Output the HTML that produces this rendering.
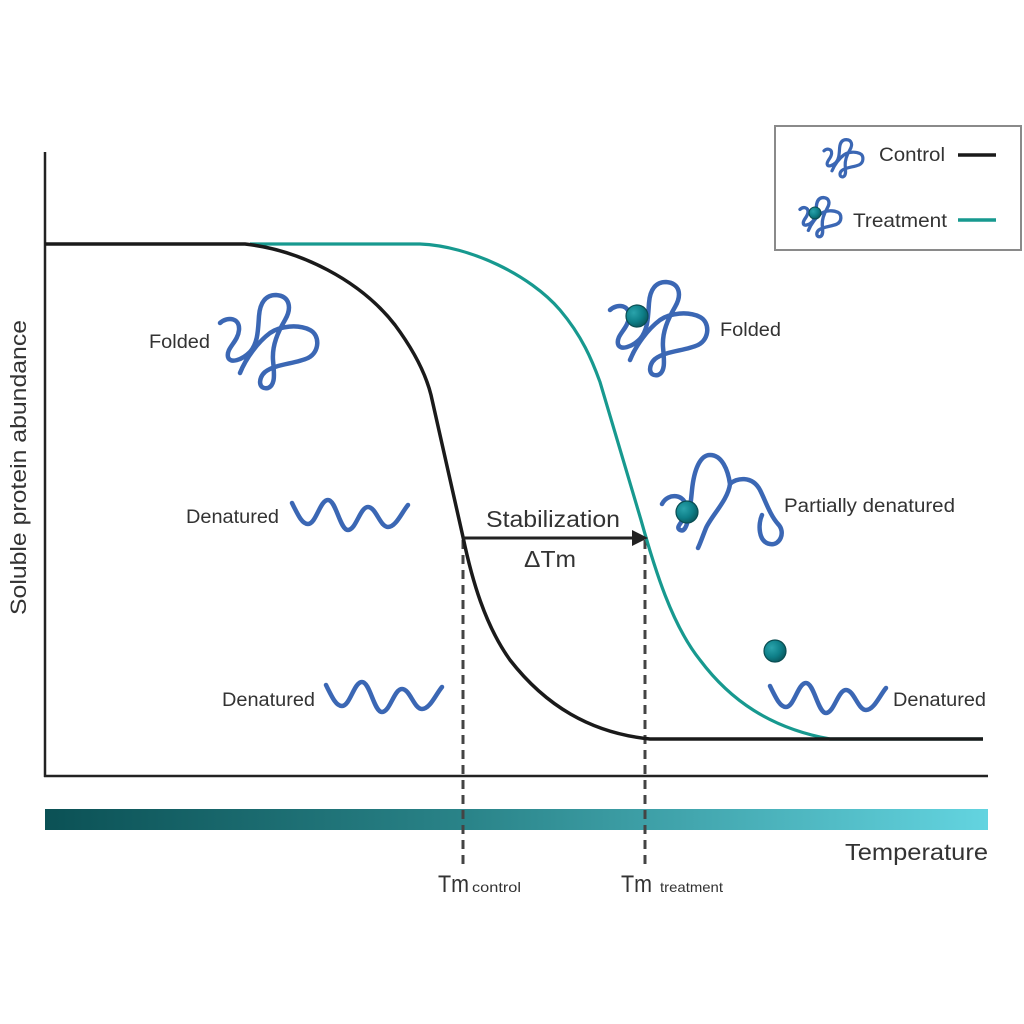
<!DOCTYPE html>
<html><head><meta charset="utf-8"><style>
html,body{margin:0;padding:0;background:#fff;}
svg{display:block;}
text{font-family:"Liberation Sans",Arial,sans-serif;fill:#333;}
</style></head><body>
<svg width="1024" height="1024" viewBox="0 0 1024 1024" xmlns="http://www.w3.org/2000/svg">
<defs>
<linearGradient id="tg" x1="0" x2="1" y1="0" y2="0">
<stop offset="0" stop-color="#0b5155"/>
<stop offset="0.45" stop-color="#2a8489"/>
<stop offset="1" stop-color="#63d4e0"/>
</linearGradient>
<radialGradient id="ball" cx="0.35" cy="0.35" r="0.7">
<stop offset="0" stop-color="#2aa3ab"/>
<stop offset="0.6" stop-color="#0e7f88"/>
<stop offset="1" stop-color="#0a5a60"/>
</radialGradient>
<path id="foldp" d="M0,27 C8,20 20,22 19,34 C18,46 6,52 8,61 C10,68 22,64 30,56 C38,47 38,34 39,20 C40,6 46,-1 56,-1 C70,0 72,12 65,24 C58,36 52,49 53,64 C54,76 56,89 48,92 C38,94 38,82 45,76 C55,68 75,68 88,62 C100,56 100,39 90,34 C78,28 60,30 50,37 C38,46 26,62 20,77"/>
<path id="wave" d="M292,503 C298,515 302,524 308,524 C316,524 320,500 328,500 C336,500 340,530 348,530 C356,530 360,507 368,507 C376,507 380,527 388,527 C396,527 402,512 408,505" fill="none" stroke="#3b67b4" stroke-width="4.5" stroke-linecap="round"/>
</defs>

<!-- axes -->
<line x1="45" y1="152" x2="45" y2="777" stroke="#222" stroke-width="2.5"/>
<line x1="44" y1="776" x2="988" y2="776" stroke="#222" stroke-width="2.5"/>

<!-- gradient bar -->
<rect x="45" y="809" width="943" height="21" fill="url(#tg)"/>

<!-- dashed lines -->
<line x1="463" y1="540" x2="463" y2="868" stroke="#444" stroke-width="3" stroke-dasharray="9,6"/>
<line x1="645" y1="540" x2="645" y2="868" stroke="#444" stroke-width="3" stroke-dasharray="9,6"/>

<!-- teal curve -->
<path d="M250,244 L420,244 C470,246 530,275 560,310 C582,336 592,360 600,382 L641,520 C655,570 672,625 700,660 C730,700 770,728 830,739 L983,739" fill="none" stroke="#17998f" stroke-width="3.2"/>
<!-- black curve -->
<path d="M45,244 L245,244 C300,250 360,280 395,325 C415,352 426,375 431,395 L463,537 C472,580 485,625 510,660 C545,705 590,733 650,739 L983,739" fill="none" stroke="#1a1a1a" stroke-width="3.5"/>

<!-- arrow -->
<line x1="463" y1="538" x2="634" y2="538" stroke="#222" stroke-width="3"/>
<polygon points="632,530 648,538 632,546" fill="#222"/>

<!-- proteins -->
<use href="#foldp" transform="translate(220,296)" fill="none" stroke="#3b67b4" stroke-width="4.5" stroke-linecap="round" stroke-linejoin="round"/>
<use href="#foldp" transform="translate(610,283)" fill="none" stroke="#3b67b4" stroke-width="4.5" stroke-linecap="round" stroke-linejoin="round"/>
<circle cx="637" cy="316" r="11" fill="url(#ball)" stroke="#0a4d52" stroke-width="1.2"/>

<use href="#wave"/>
<use href="#wave" transform="translate(34,182)"/>
<use href="#wave" transform="translate(478,183)"/>

<!-- partially denatured -->
<path d="M662,504 C668,492 686,494 686,508 C686,522 674,526 680,530 C688,534 690,510 692,490 C694,470 700,455 710,455 C722,455 728,470 730,484 C736,478 752,475 760,490 C766,502 770,515 778,524 C786,532 780,546 770,544 C758,542 758,524 762,515 M730,484 C728,500 712,515 706,528 C702,538 700,544 698,548" fill="none" stroke="#3b67b4" stroke-width="4.5" stroke-linecap="round" stroke-linejoin="round"/>
<circle cx="687" cy="512" r="11" fill="url(#ball)" stroke="#0a4d52" stroke-width="1.2"/>

<circle cx="775" cy="651" r="11" fill="url(#ball)" stroke="#0a4d52" stroke-width="1.2"/>

<!-- legend -->
<rect x="775" y="126" width="246" height="124" fill="#fff" stroke="#8a8a8a" stroke-width="2"/>
<use href="#foldp" transform="translate(824,140) scale(0.4)" fill="none" stroke="#3b67b4" stroke-width="8" stroke-linecap="round"/>
<use href="#foldp" transform="translate(800,198) scale(0.42)" fill="none" stroke="#3b67b4" stroke-width="8" stroke-linecap="round"/>
<circle cx="815" cy="213" r="6" fill="url(#ball)" stroke="#0a4d52" stroke-width="1"/>
<text x="879" y="161" font-size="19.5" textLength="66" lengthAdjust="spacingAndGlyphs">Control</text>
<text x="853" y="227" font-size="19.5" textLength="94" lengthAdjust="spacingAndGlyphs">Treatment</text>
<line x1="958" y1="155" x2="996" y2="155" stroke="#1a1a1a" stroke-width="3.5"/>
<line x1="958" y1="220" x2="996" y2="220" stroke="#17998f" stroke-width="3.5"/>

<!-- labels -->
<text x="149" y="348" font-size="19" textLength="61" lengthAdjust="spacingAndGlyphs">Folded</text>
<text x="186" y="523" font-size="19" textLength="93" lengthAdjust="spacingAndGlyphs">Denatured</text>
<text x="222" y="706" font-size="19" textLength="93" lengthAdjust="spacingAndGlyphs">Denatured</text>
<text x="720" y="336" font-size="19" textLength="61" lengthAdjust="spacingAndGlyphs">Folded</text>
<text x="784" y="512" font-size="19" textLength="171" lengthAdjust="spacingAndGlyphs">Partially denatured</text>
<text x="893" y="706" font-size="19" textLength="93" lengthAdjust="spacingAndGlyphs">Denatured</text>
<text x="486" y="527" font-size="23" textLength="134" lengthAdjust="spacingAndGlyphs">Stabilization</text>
<text x="524" y="567" font-size="23" textLength="52" lengthAdjust="spacingAndGlyphs">ΔTm</text>
<text x="845" y="860" font-size="23" textLength="143" lengthAdjust="spacingAndGlyphs">Temperature</text>
<text x="438" y="892" font-size="24" textLength="31" lengthAdjust="spacingAndGlyphs">Tm</text>
<text x="472" y="892" font-size="14" textLength="49" lengthAdjust="spacingAndGlyphs">control</text>
<text x="621" y="892" font-size="24" textLength="31" lengthAdjust="spacingAndGlyphs">Tm</text>
<text x="660" y="892" font-size="14" textLength="63" lengthAdjust="spacingAndGlyphs">treatment</text>
<text transform="translate(26,615) rotate(-90)" x="0" y="0" font-size="22" textLength="295" lengthAdjust="spacingAndGlyphs">Soluble protein abundance</text>
</svg>
</body></html>
